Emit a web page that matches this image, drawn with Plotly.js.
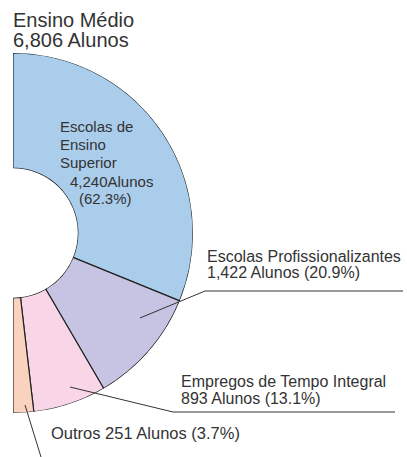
<!DOCTYPE html>
<html><head><meta charset="utf-8">
<script src="https://cdn.plot.ly/plotly-3.0.1.min.js"></script>
<style>html,body{margin:0;padding:0;background:#fff}#chart{width:407px;height:457px}</style>
</head><body><div id="chart"></div>
<script>
const categories = ['Escolas de Ensino Superior', 'Escolas Profissionalizantes', 'Empregos de Tempo Integral', 'Outros'];
const students = [4240, 1422, 893, 251];
const percents = [62.3, 20.9, 13.1, 3.7];
const totalLabel = ['Ensino Médio', '6,806 Alunos'];
const sliceColors = ['#AACDEC', '#C6C4E2', '#F8D5E7', '#F9D3BE'];

const total = students.reduce((a, b) => a + b, 0);
const widths = students.map(v => v / total * 180);
const mids = [];
let acc = 0;
widths.forEach(w => { mids.push(acc + w / 2); acc += w; });

const W = 407, H = 457;
const px = x => x / W, py = y => 1 - y / H;
const fmt = n => n.toLocaleString('en-US');
const txt = '#333333';
const fam = 'Liberation Sans, Arial, sans-serif';
const f = size => ({family: fam, size, color: txt});

const trace = {
  type: 'barpolar',
  r: students.map(() => 1),
  theta: mids,
  width: widths,
  marker: {color: sliceColors, line: {color: '#222', width: 1.2}},
  hoverinfo: 'skip'
};

const ann = (x, y, text, size) => ({
  xref: 'paper', yref: 'paper', x: px(x), y: py(y), text, showarrow: false,
  xanchor: 'left', yanchor: 'middle', align: 'left', font: f(size), borderpad: 0
});
const line = (x0, y0, x1, y1) => ({type: 'line', xref: 'paper', yref: 'paper',
  x0: px(x0), y0: py(y0), x1: px(x1), y1: py(y1), line: {color: '#333', width: 1}});

const pct = i => '(' + percents[i].toFixed(1) + '%)';

const layout = {
  width: W, height: H,
  margin: {l: 0, r: 0, t: 0, b: 0},
  paper_bgcolor: '#fff',
  showlegend: false,
  polar: {
    domain: {x: [px(13), px(193)], y: [py(413), py(53)]},
    sector: [-90, 90],
    hole: 0.36,
    bgcolor: 'rgba(0,0,0,0)',
    radialaxis: {visible: false, range: [0, 1]},
    angularaxis: {visible: false, rotation: 90, direction: 'clockwise', thetaunit: 'degrees'}
  },
  annotations: [
    ann(12, 20, totalLabel[0], 20),
    ann(12, 40, totalLabel[1], 20),
    ann(59, 126, 'Escolas de', 15),
    ann(59, 144, 'Ensino', 15),
    ann(59, 162, 'Superior', 15),
    ann(69, 181, fmt(students[0]) + 'Alunos', 15),
    ann(78, 198, pct(0), 15),
    ann(206, 256, categories[1], 16),
    ann(206, 272, fmt(students[1]) + ' Alunos ' + pct(1), 16),
    ann(180, 381, categories[2], 16),
    ann(180, 398, students[2] + ' Alunos ' + pct(2), 16),
    ann(50, 433, categories[3] + ' ' + students[3] + ' Alunos ' + pct(3), 16.5)
  ],
  shapes: [
    line(140, 318, 205, 291), line(205, 291, 403, 291),
    line(70, 387, 173, 412), line(173, 412, 395, 412),
    line(25, 405, 41, 457)
  ]
};

Plotly.newPlot('chart', [trace], layout, {staticPlot: true, displayModeBar: false});
</script></body></html>
